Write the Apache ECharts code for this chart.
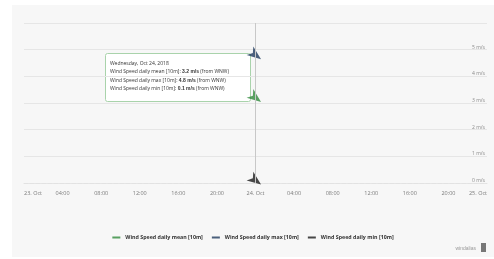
<!DOCTYPE html>
<html style="height: 100%">
<head>
    <meta charset="utf-8">
</head>
<body style="height: 100%; margin: 0; background: #fff">
    <div id="container" style="position: absolute; left: 12px; top: 5px; right: 0; bottom: 2px; background: #f7f7f7"></div>

    <script type="text/javascript" src="https://cdn.jsdelivr.net/npm/echarts@6/dist/echarts.min.js"></script>
    <script type="text/javascript">
        var dom = document.getElementById('container');
        var myChart = echarts.init(dom);

        // data
        var seriesNames = ['Wind Speed daily mean [10m]', 'Wind Speed daily max [10m]', 'Wind Speed daily min [10m]'];
        var seriesColors = ['#2f8a3b', '#1f3a5c', '#1a1a1a'];
        var pointTime = '2018-10-24T00:00:00';
        var speeds = [3.2, 4.8, 0.1];          // m/s
        var directions = [292.5, 292.5, 292.5]; // from WNW
        var dirNames = ['WNW', 'WNW', 'WNW'];
        var tooltipTitle = 'Wednesday, Oct 24, 2018';
        var yTicks = [0, 1, 2, 3, 4, 5];
        var xStart = '2018-10-23T00:00:00';
        var xEnd = '2018-10-25T00:00:00';

        var HOUR = 3600 * 1000;
        var t0 = new Date(xStart).getTime();
        var t1 = new Date(xEnd).getTime();
        var tp = new Date(pointTime).getTime();

        var arrow = 'path://M0,-10 L6,9 L0,4 L-6,9 Z';

        var series = seriesNames.map(function (name, i) {
            return {
                name: name,
                type: 'scatter',
                symbol: arrow,
                symbolSize: [11, 14],
                symbolRotate: -(directions[i] + 180 - 360 + 15),
                itemStyle: { color: seriesColors[i] },
                data: [[tp, speeds[i]]],
                markLine: i === 0 ? {
                    silent: true,
                    symbol: 'none',
                    label: { show: false },
                    lineStyle: { color: '#c8c8c8', width: 1, type: 'solid' },
                    data: [{ xAxis: tp }]
                } : undefined
            };
        });

        var tipLines = seriesNames.map(function (n, i) {
            return n + ': {b|' + speeds[i].toFixed(1) + ' m/s} (from ' + dirNames[i] + ')';
        });

        var option = {
            animation: false,
            textStyle: { fontFamily: 'Open Sans, DejaVu Sans, sans-serif' },
            grid: { left: 12, right: 7, top: 18, bottom: 74 },
            xAxis: {
                type: 'value',
                min: t0,
                max: t1,
                interval: 4 * HOUR,
                axisLine: { lineStyle: { color: '#e2e2e2', type: 'dashed' } },
                axisTick: { show: false },
                splitLine: { show: false },
                axisLabel: {
                    color: '#7a7a7a',
                    fontSize: 5.5,
                    margin: 7,
                    showMinLabel: true,
                    showMaxLabel: true,
                    alignMinLabel: 'left',
                    alignMaxLabel: 'right',
                    formatter: function (v) {
                        var d = new Date(v);
                        if (d.getHours() === 0) return d.getDate() + '. Oct';
                        return ('0' + d.getHours()).slice(-2) + ':00';
                    }
                }
            },
            yAxis: {
                type: 'value',
                position: 'right',
                min: 0,
                max: 6,
                interval: 1,
                axisLine: { show: false },
                axisTick: { show: false },
                splitLine: { lineStyle: { color: '#e6e6e6' } },
                axisLabel: {
                    inside: true,
                    color: '#8a8a8a',
                    fontSize: 5,
                    verticalAlign: 'bottom',
                    margin: 2,
                    formatter: function (v) {
                        return yTicks.indexOf(v) >= 0 ? v + ' m/s' : '';
                    }
                }
            },
            legend: {
                bottom: 12,
                left: 'center',
                itemWidth: 8,
                itemHeight: 2,
                itemGap: 9,
                icon: 'rect',
                textStyle: { fontSize: 5.3, fontWeight: 'bold', color: '#333' },
                data: seriesNames
            },
            graphic: [
                {
                    type: 'group',
                    left: 93,
                    top: 48,
                    children: [
                        {
                            type: 'rect',
                            shape: { x: 0.5, y: 0.5, width: 145, height: 48, r: 2 },
                            style: { fill: '#ffffff', stroke: '#a9d3ab', lineWidth: 1 }
                        },
                        {
                            type: 'text',
                            x: 5,
                            y: 6,
                            style: {
                                text: tooltipTitle + '\n' + tipLines.join('\n'),
                                fontSize: 5,
                                lineHeight: 8.5,
                                fill: '#333',
                                fontFamily: 'Open Sans, DejaVu Sans, sans-serif',
                                rich: { b: { fontWeight: 'bold', fontSize: 5, lineHeight: 8.5 } }
                            }
                        }
                    ]
                },
                {
                    type: 'text',
                    right: 18,
                    bottom: 6,
                    style: { text: 'windalias', fontSize: 5, fill: '#999' }
                },
                {
                    type: 'rect',
                    right: 8,
                    bottom: 5,
                    shape: { width: 5, height: 9 },
                    style: { fill: '#777' }
                }
            ],
            series: series
        };

        myChart.setOption(option);
    </script>
</body>
</html>
